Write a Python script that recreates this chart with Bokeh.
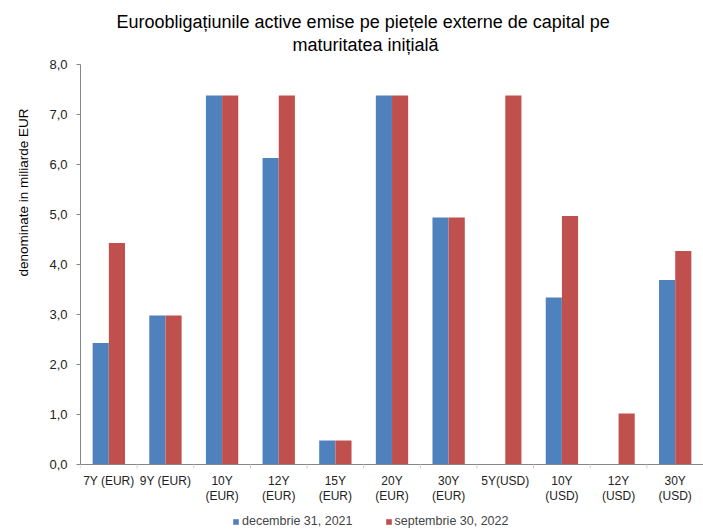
import numpy as np
from bokeh.plotting import figure
from bokeh.models import (ColumnDataSource, FixedTicker, CustomJSTickFormatter,
                          Legend, LegendItem, Range1d, Title)
from bokeh.core.properties import value
from bokeh.embed import file_html
from bokeh.resources import INLINE

categories = ["7Y (EUR)", "9Y (EUR)", "10Y (EUR)", "12Y (EUR)", "15Y (EUR)", "20Y (EUR)",
              "30Y (EUR)", "5Y(USD)", "10Y (USD)", "12Y (USD)", "30Y (USD)"]
label_line1 = ["7Y (EUR)", "9Y (EUR)", "10Y", "12Y", "15Y", "20Y", "30Y", "5Y(USD)", "10Y", "12Y", "30Y"]
label_line2 = ["", "", "(EUR)", "(EUR)", "(EUR)", "(EUR)", "(EUR)", "", "(USD)", "(USD)", "(USD)"]
dec_2021 = [2.43, 2.98, 7.38, 6.13, 0.48, 7.38, 4.94, 0.0, 3.34, 0.0, 3.69]
sep_2022 = [4.43, 2.98, 7.38, 7.38, 0.48, 7.38, 4.94, 7.38, 4.97, 1.02, 4.27]
series_names = ["decembrie 31, 2021", "septembrie 30, 2022"]
title_lines = ["Euroobligațiunile active emise pe piețele externe de capital pe",
               "maturitatea inițială"]
y_label = "denominate in miliarde EUR"

FONT = "Liberation Sans"
BLUE = "#4F81BD"
RED = "#C0504D"
AXIS = "#868686"

n = len(categories)
centers = np.arange(n) + 0.5
bw = 0.285
off = 0.143
px = 1.0 / 50.0          # one screen pixel in y data units (400 px for 8 units)
y_bottom = -67 * px      # room below the axis for category labels and legend

src = ColumnDataSource(dict(xb=centers - off, xr=centers + off, b=dec_2021, r=sep_2022))

p = figure(width=703, height=531, output_backend="svg", toolbar_location=None,
           x_range=Range1d(0, n), y_range=Range1d(y_bottom, 8), title=None,
           x_axis_location=None,
           min_border_left=80, min_border_right=0, min_border_top=64, min_border_bottom=0)
p.outline_line_color = None
p.grid.visible = False
p.background_fill_color = "white"

rb = p.vbar(x="xb", top="b", width=bw, source=src, fill_color=BLUE, line_color=None)
rr = p.vbar(x="xr", top="r", width=bw, source=src, fill_color=RED, line_color=None)

# y axis
ya = p.yaxis[0]
ya.bounds = (0, 8)
ya.ticker = FixedTicker(ticks=list(range(0, 9)))
ya.formatter = CustomJSTickFormatter(code="return tick.toFixed(1).replace('.', ',');")
ya.axis_line_color = AXIS
ya.major_tick_line_color = AXIS
ya.major_tick_out = 4
ya.major_tick_in = 0
ya.minor_tick_line_color = None
ya.major_label_text_font = FONT
ya.major_label_text_font_size = "13px"
ya.major_label_text_color = "#222222"
ya.major_label_standoff = 9

# category (x) axis drawn at y = 0
bounds = np.arange(n + 1)
p.segment(x0=[0], y0=[0], x1=[n], y1=[0], line_color=AXIS, line_width=1)
p.segment(x0=bounds, y0=np.zeros(n + 1), x1=bounds, y1=np.full(n + 1, -4 * px),
          line_color="#D0D0D0", line_width=1)
p.text(x=centers, y=np.full(n, -16 * px), text=label_line1, text_align="center",
       text_baseline="middle", text_font=value(FONT), text_font_size=value("12px"),
       text_color="#222222")
p.text(x=centers, y=np.full(n, -31 * px), text=label_line2, text_align="center",
       text_baseline="middle", text_font=value(FONT), text_font_size=value("12px"),
       text_color="#222222")

# title: two lines
p.add_layout(Title(text=title_lines[1], align="left", offset=212, standoff=20,
                   text_font=FONT, text_font_size="18px", text_font_style="normal",
                   text_color="#000000"), "above")
p.add_layout(Title(text=title_lines[0], align="left", offset=36, standoff=-18,
                   text_font=FONT, text_font_size="18px", text_font_style="normal",
                   text_color="#000000"), "above")

# y axis title, in the left panel
p.add_layout(Title(text=y_label, align="left", offset=255, standoff=28, vertical_align="top",
                   text_font=FONT, text_font_size="13.5px", text_font_style="normal",
                   text_color="#000000"), "left")

legend = Legend(items=[LegendItem(label=series_names[0], renderers=[rb]),
                       LegendItem(label=series_names[1], renderers=[rr])],
                location=(152, 3), orientation="horizontal", glyph_width=7, glyph_height=7,
                label_standoff=3, spacing=32, padding=0, margin=0, border_line_color=None,
                background_fill_alpha=0, label_text_font=FONT, label_text_font_size="12.5px",
                label_height=12)
p.add_layout(legend, "center")

open("out.html", "w").write(file_html(p, INLINE))
